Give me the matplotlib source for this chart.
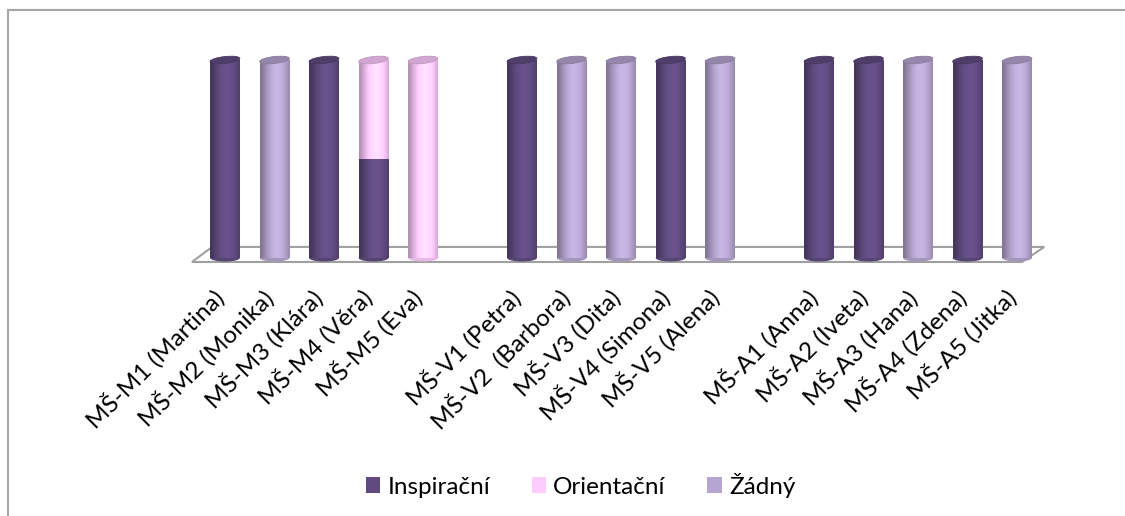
import matplotlib.pyplot as plt
import matplotlib.patches as mpatches
from matplotlib.lines import Line2D
import numpy as np

labels = ['MŠ-M1 (Martina)', 'MŠ-M2 (Monika)', 'MŠ-M3 (Klára)', 'MŠ-M4 (Věra)', 'MŠ-M5 (Eva)', '',
          'MŠ-V1 (Petra)', 'MŠ-V2  (Barbora)', 'MŠ-V3 (Dita)', 'MŠ-V4 (Simona)', 'MŠ-V5 (Alena)', '',
          'MŠ-A1 (Anna)', 'MŠ-A2 (Iveta)', 'MŠ-A3 (Hana)', 'MŠ-A4 (Zdena)', 'MŠ-A5 (Jitka)']
inspiracni = [1, 0, 1, 0.5, 0, 0, 1, 0, 0, 1, 0, 0, 1, 1, 0, 1, 0]
orientacni = [0, 0, 0, 0.5, 1, 0, 0, 0, 0, 0, 0, 0, 0, 0, 0, 0, 0]
zadny = [0, 1, 0, 0, 0, 0, 0, 1, 1, 0, 1, 0, 0, 0, 1, 0, 1]
series_names = ['Inspirační', 'Orientační', 'Žádný']
colors = ['#604B80', '#FFCCFF', '#B6A5D0']

plt.rcParams['font.family'] = ['Lato', 'DejaVu Sans']

fig = plt.figure(figsize=(11.25, 5.16), dpi=100)
ax = fig.add_axes([0.16, 0.4767, 0.7867, 0.4264])
ax.set_xlim(-0.909, 16.97)
ax.set_ylim(-0.0606, 1.0505)
ax.axis('off')

# floor of the 3D plot
floor = mpatches.Polygon([(-0.667, -0.02), (16.1, -0.02), (16.55, 0.056), (-0.26, 0.056)],
                         closed=True, facecolor='white', edgecolor='#A0A0A0', lw=1.5, zorder=1)
ax.add_patch(floor)

width = 0.6
x = np.arange(len(labels))
# horizontal shading of a cylinder: dark at the edges, light right of centre
t = np.linspace(-1, 1, 60)
shade = 0.72 + 0.38 * np.cos(np.clip((t - 0.15) * 1.5, -np.pi / 2, np.pi / 2))
cap_h = 0.035

def tint(c, f):
    rgb = np.array(plt.matplotlib.colors.to_rgb(c))
    return np.clip(rgb * f, 0, 1)

bottom = np.zeros(len(labels))
for vals, col in zip([inspiracni, orientacni, zadny], colors):
    bars = ax.bar(x, vals, width, bottom=bottom, color=col, zorder=2, lw=0)
    for b, v, b0 in zip(bars, vals, bottom):
        if v <= 0:
            continue
        x0, w = b.get_x(), b.get_width()
        img = np.array([tint(col, f) for f in shade])[None, :, :]
        im = ax.imshow(img, extent=[x0, x0 + w, b0 - cap_h / 2, b0 + v], aspect='auto',
                       zorder=3, interpolation='bicubic')
        body = mpatches.Rectangle((x0, b0), w, v, transform=ax.transData)
        im.set_clip_path(body)
        bot = mpatches.Ellipse((x0 + w / 2, b0), w, cap_h, facecolor=tint(col, 0.9),
                               edgecolor='none', zorder=2.5)
        ax.add_patch(bot)
        b.set_visible(False)
    bottom = bottom + np.array(vals)

# top caps
for xi, tot, ins, ori, zad in zip(x, bottom, inspiracni, orientacni, zadny):
    if tot <= 0:
        continue
    top_col = colors[2] if zad > 0 else (colors[1] if ori > 0 else colors[0])
    cap = mpatches.Ellipse((xi, tot), width, cap_h, angle=1.5, facecolor=tint(top_col, 0.82),
                           edgecolor=tint(top_col, 0.75), lw=0.6, zorder=4)
    ax.add_patch(cap)

# category labels
for xi, lab in zip(x, labels):
    if not lab:
        continue
    ax.text(xi - 0.1, -0.18, lab, rotation=45, rotation_mode='anchor', ha='right', va='center',
            fontsize=17.5, transform=ax.transData, clip_on=False)

# legend
handles = [mpatches.Patch(facecolor=c, edgecolor='none') for c in colors]
fig.legend(handles, series_names, loc='center', bbox_to_anchor=(0.516, 0.06), ncol=3, frameon=False,
           fontsize=17.5, handlelength=0.6, handleheight=0.6, handletextpad=0.3, columnspacing=1.7)

# chart border
fig.add_artist(Line2D([8 / 1125, 8 / 1125], [0, 1 - 10 / 516], color='#A6A6A6', lw=1.5))
fig.add_artist(Line2D([8 / 1125, 1], [1 - 10 / 516, 1 - 10 / 516], color='#A6A6A6', lw=1.5))

fig.savefig('out.png', dpi=100)
